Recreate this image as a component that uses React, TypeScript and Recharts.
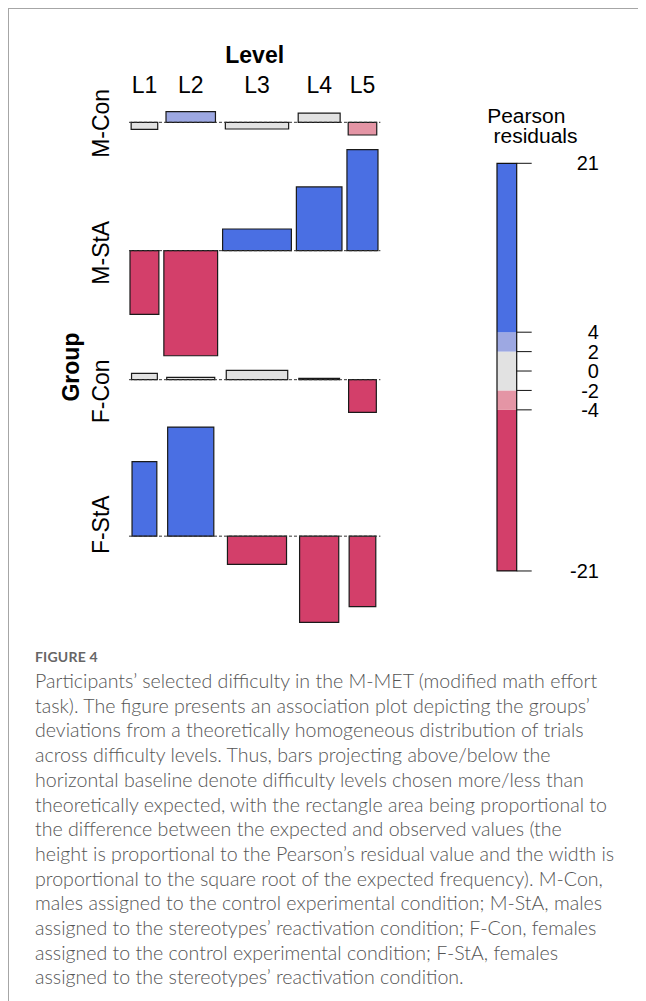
import React from 'react';
import { ComposedChart, XAxis, YAxis, ReferenceArea, ReferenceLine, Label } from 'recharts';

// Association plot: groups x difficulty levels
const groups = ['M-Con', 'M-StA', 'F-Con', 'F-StA'];
const levels = ['L1', 'L2', 'L3', 'L4', 'L5'];

// Pearson residuals, one value per level (L1..L5)
const residualsMCon = [-1.37, 2.08, -1.31, 1.82, -2.49];
const residualsMStA = [-12.5, -20.6, 4.25, 12.5, 19.8];
const residualsFCon = [1.24, 0.45, 1.82, 0.25, -6.4];
const residualsFStA = [14.6, 21.4, -5.55, -16.9, -13.8];

// Marginal trial counts; bar widths follow sqrt(expected frequency)
const groupTrials = [2450, 2895, 2310, 2135];
const levelTrials = [710, 2460, 4030, 1770, 820];

// Shading cut points for the residual legend
const legendBreaks = [-4, -2, 0, 2, 4];
const shadeColors = ['#D33F6A', '#E495A5', '#E2E2E2', '#9DA8E2', '#4A6FE3'];

const captionLines = [
  'Participants\u2019 selected difficulty in the M-MET (modified math effort',
  'task). The figure presents an association plot depicting the groups\u2019',
  'deviations from a theoretically homogeneous distribution of trials',
  'across difficulty levels. Thus, bars projecting above/below the',
  'horizontal baseline denote difficulty levels chosen more/less than',
  'theoretically expected, with the rectangle area being proportional to',
  'the difference between the expected and observed values (the',
  'height is proportional to the Pearson\u2019s residual value and the width is',
  'proportional to the square root of the expected frequency). M-Con,',
  'males assigned to the control experimental condition; M-StA, males',
  'assigned to the stereotypes\u2019 reactivation condition; F-Con, females',
  'assigned to the control experimental condition; F-StA, females',
  'assigned to the stereotypes\u2019 reactivation condition.',
];

const residuals = [residualsMCon, residualsMStA, residualsFCon, residualsFStA];

const FONT = '"Liberation Sans", Arial, Helvetica, sans-serif';
const PX_X = 1.993; // px per sqrt(expected) unit
const PX_Y = 5.1; // px per residual unit
const COL_GAP = 2.5;
const ROW_GAP = 2.88;

const shade = (r: number) => {
  if (r < legendBreaks[0]) return shadeColors[0];
  if (r < legendBreaks[1]) return shadeColors[1];
  if (r <= legendBreaks[3]) return shadeColors[2];
  if (r <= legendBreaks[4]) return shadeColors[3];
  return shadeColors[4];
};

// ---- derived layout (column slots and stacked row baselines)
const N = levelTrials.reduce((a, b) => a + b, 0);
const cellWidth = groupTrials.map((g) => levelTrials.map((l) => Math.sqrt((g * l) / N)));
const colWidth = levels.map((_, j) => Math.max(...cellWidth.map((row) => row[j])));
const colCenter: number[] = [];
{
  let acc = 0;
  colWidth.forEach((w, j) => {
    colCenter.push(acc + w / 2);
    acc += w + (j < colWidth.length - 1 ? COL_GAP : 0);
  });
}
const xTotal = colCenter[colCenter.length - 1] + colWidth[colWidth.length - 1] / 2;
const xDomain: [number, number] = [-0.5, xTotal + 1.2];

const rowBase: number[] = [];
const rowMid: number[] = [];
let yBottom = 0;
{
  let top = 0;
  residuals.forEach((rs) => {
    const hi = Math.max(0, ...rs);
    const lo = Math.min(0, ...rs);
    const base = top - hi;
    rowBase.push(base);
    rowMid.push(base + (hi + lo) / 2);
    yBottom = base + lo;
    top = yBottom - ROW_GAP;
  });
}
const yDomain: [number, number] = [yBottom, 0];

const cells = residuals.flatMap((rs, i) =>
  rs.map((r, j) => ({
    group: groups[i],
    level: levels[j],
    residual: r,
    cx: colCenter[j],
    x1: colCenter[j] - cellWidth[i][j] / 2,
    x2: colCenter[j] + cellWidth[i][j] / 2,
    y1: rowBase[i],
    y2: rowBase[i] + r,
    fill: shade(r),
  }))
);

const allRes = residuals.flat();
const resMin = Math.min(...allRes);
const resMax = Math.max(...allRes);
const legendTicks = [resMin, ...legendBreaks, resMax];
const legendBands: [number, number][] = [
  [resMin, legendBreaks[0]],
  [legendBreaks[0], legendBreaks[1]],
  [legendBreaks[1], legendBreaks[3]],
  [legendBreaks[3], legendBreaks[4]],
  [legendBreaks[4], resMax],
];

// ---- chart geometry
const AXIS_W = 89;
const TOP_AXIS_H = 81.7;
const plotW = (xDomain[1] - xDomain[0]) * PX_X;
const plotH = (yDomain[1] - yDomain[0]) * PX_Y;
const mainMargin = { top: 0, right: 4, bottom: 4, left: 0 };
const mainW = AXIS_W + plotW + mainMargin.right;
const mainH = TOP_AXIS_H + plotH + mainMargin.bottom;

const LEG_PLOT_H = (resMax - resMin) * 9.707;
const legMargin = { top: 68.3, right: 0, bottom: 14, left: 27 };
const LEG_BAR_W = 19.7;
const LEG_AXIS_W = 120;

const LevelTick = (props: any) => {
  const { x, y, payload } = props;
  const idx = colCenter.indexOf(payload.value);
  return (
    <text x={x} y={y - 19} textAnchor="middle" fontSize={23} fontFamily={FONT} fill="#000">
      {levels[idx]}
    </text>
  );
};

const GroupTick = (props: any) => {
  const { x, y, payload } = props;
  const idx = rowMid.indexOf(payload.value);
  const tx = x - 19.5;
  return (
    <text
      x={tx}
      y={y}
      transform={`rotate(-90, ${tx}, ${y})`}
      textAnchor="middle"
      fontSize={23}
      fontFamily={FONT}
      fill="#000"
    >
      {groups[idx]}
    </text>
  );
};

const LegendTick = (props: any) => {
  const { x, y, payload } = props;
  return (
    <g>
      <line x1={x} y1={y} x2={x + 15} y2={y} stroke="#111" strokeWidth={1} />
      <text x={x + 82.3} y={y + 7.2} textAnchor="end" fontSize={20} fontFamily={FONT} fill="#000">
        {Math.round(payload.value)}
      </text>
    </g>
  );
};

function AssocPlot() {
  return (
    <ComposedChart width={mainW} height={mainH} margin={mainMargin} data={cells}>
      <XAxis
        type="number"
        dataKey="cx"
        orientation="top"
        domain={xDomain}
        allowDataOverflow
        ticks={colCenter}
        interval={0}
        height={TOP_AXIS_H}
        axisLine={false}
        tickLine={false}
        tickSize={0}
        tickMargin={0}
        tick={<LevelTick />}
      >
        <Label
          content={(p: any) => {
            const vb = p.viewBox;
            return (
              <text
                x={vb.x + vb.width / 2}
                y={vb.y + vb.height - 48.4}
                textAnchor="middle"
                fontSize={23}
                fontWeight="bold"
                fontFamily={FONT}
                fill="#000"
              >
                Level
              </text>
            );
          }}
        />
      </XAxis>
      <YAxis
        type="number"
        dataKey="y1"
        domain={yDomain}
        allowDataOverflow
        ticks={rowMid}
        interval={0}
        width={AXIS_W}
        axisLine={false}
        tickLine={false}
        tickSize={0}
        tickMargin={0}
        tick={<GroupTick />}
      >
        <Label
          content={(p: any) => {
            const vb = p.viewBox;
            const tx = vb.x + vb.width - 49.5;
            const ty = vb.y + vb.height / 2;
            return (
              <text
                x={tx}
                y={ty}
                transform={`rotate(-90, ${tx}, ${ty})`}
                textAnchor="middle"
                fontSize={23}
                fontWeight="bold"
                fontFamily={FONT}
                fill="#000"
              >
                Group
              </text>
            );
          }}
        />
      </YAxis>
      {rowBase.map((b, i) => (
        <ReferenceLine key={`base-${i}`} y={b} stroke="#333" strokeWidth={1} strokeDasharray="3 2" />
      ))}
      {cells.map((c, k) => (
        <ReferenceArea
          key={`cell-${k}`}
          x1={c.x1}
          x2={c.x2}
          y1={c.y1}
          y2={c.y2}
          fill={c.fill}
          fillOpacity={1}
          stroke="#1a1a1a"
          strokeWidth={1.2}
          ifOverflow="visible"
        />
      ))}
    </ComposedChart>
  );
}

function ResidualLegend() {
  return (
    <ComposedChart
      width={legMargin.left + LEG_BAR_W + LEG_AXIS_W}
      height={legMargin.top + LEG_PLOT_H + legMargin.bottom}
      margin={legMargin}
      data={legendTicks.map((v) => ({ v }))}
    >
      <XAxis type="number" domain={[0, 1]} hide allowDataOverflow />
      <YAxis
        type="number"
        dataKey="v"
        orientation="right"
        domain={[resMin, resMax]}
        allowDataOverflow
        ticks={legendTicks}
        interval={0}
        width={LEG_AXIS_W}
        axisLine={false}
        tickLine={false}
        tickSize={0}
        tickMargin={0}
        tick={<LegendTick />}
      >
        <Label
          content={(p: any) => {
            const vb = p.viewBox;
            return (
              <g>
                <text x={vb.x + 9.6} y={vb.y - 40} textAnchor="middle" fontSize={21} fontFamily={FONT} fill="#000">
                  Pearson
                </text>
                <text x={vb.x + 18.8} y={vb.y - 20} textAnchor="middle" fontSize={21} fontFamily={FONT} fill="#000">
                  residuals
                </text>
              </g>
            );
          }}
        />
      </YAxis>
      {legendBands.map(([lo, hi], i) => (
        <ReferenceArea key={`band-${i}`} y1={lo} y2={hi} fill={shadeColors[i]} fillOpacity={1} stroke="none" ifOverflow="visible" />
      ))}
      <ReferenceArea y1={resMin} y2={resMax} fill="none" stroke="#111" strokeWidth={1.2} ifOverflow="visible" />
    </ComposedChart>
  );
}

export default function App() {
  return (
    <div
      style={{
        position: 'relative',
        width: 700,
        height: 1000,
        borderTop: '1px solid #a6a6a6',
        borderLeft: '1px solid #a6a6a6',
        background: '#fff',
      }}
    >
      <style>{`html,body{overflow:hidden;}`}</style>
      <div style={{ position: 'absolute', left: 31, top: 21 }}>
        <AssocPlot />
      </div>
      <div style={{ position: 'absolute', left: 461, top: 86 }}>
        <ResidualLegend />
      </div>
      <div
        style={{
          position: 'absolute',
          left: 26,
          top: 636,
          fontFamily: 'Lato, "Open Sans", sans-serif',
          color: '#555',
        }}
      >
        <div style={{ fontSize: 14, fontWeight: 700, letterSpacing: 0.2, color: '#666', lineHeight: '24px' }}>
          FIGURE 4
        </div>
        {captionLines.map((t, i) => (
          <div key={i} style={{ fontSize: 19.6, fontWeight: 300, lineHeight: '24.7px', whiteSpace: 'nowrap' }}>
            {t}
          </div>
        ))}
      </div>
    </div>
  );
}
